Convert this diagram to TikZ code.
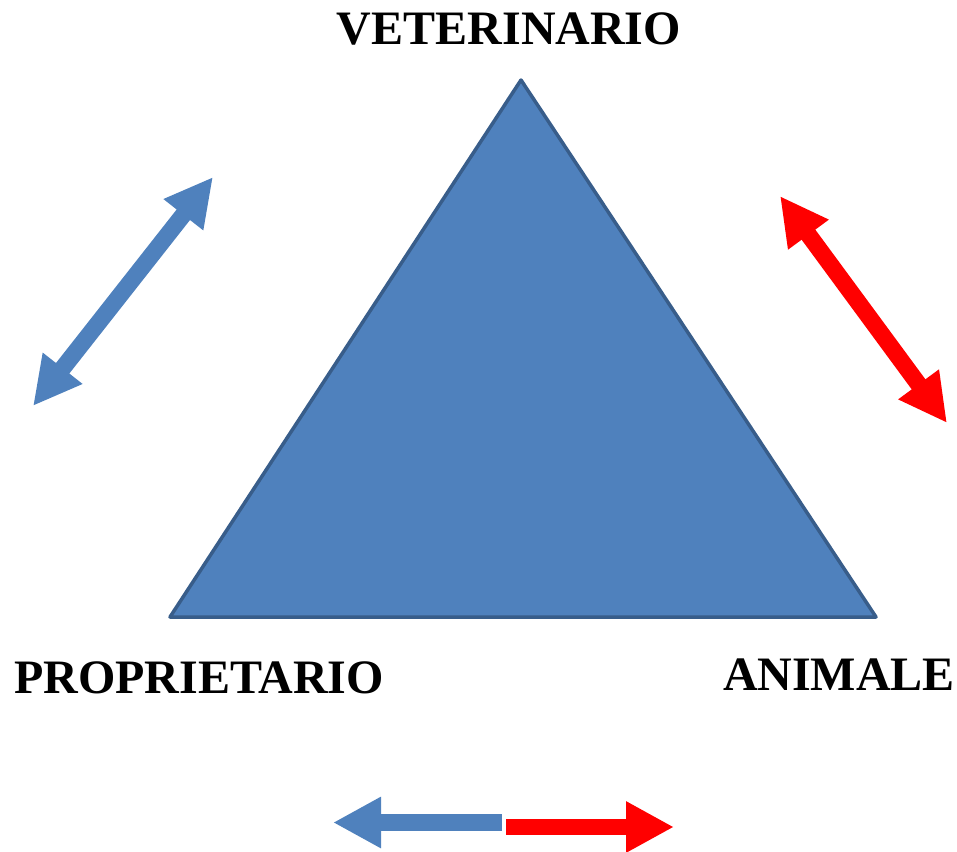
\documentclass[tikz,border=0pt]{standalone}
\usepackage{fontspec}
\setmainfont{Liberation Serif}
\usetikzlibrary{arrows.meta}
\definecolor{triFill}{HTML}{4F81BD}
\definecolor{triLine}{HTML}{385D8A}
\definecolor{arrRed}{HTML}{FF0000}
\tikzstyle{label} = [font=\fontsize{48}{50}\selectfont\bfseries, inner sep=0pt]
\tikzstyle{tri} = [fill=triFill, draw=triLine, line width=3.5pt, line join=round]
\tikzstyle{dblArrow} = [line width=17pt, {Triangle[length=48pt,width=47pt]}-{Triangle[length=48pt,width=47pt]}]
\tikzstyle{oneArrow} = [line width=16pt, -{Triangle[length=48pt,width=48pt]}]

\begin{document}
\begin{tikzpicture}[x=1pt, y=-1pt]

    \useasboundingbox (0,0) rectangle (957,851);

    % triangle corners
    \coordinate (vet) at (521, 80);
    \coordinate (pro) at (170, 617);
    \coordinate (ani) at (876, 617);
    \draw[tri] (vet) -- (ani) -- (pro) -- cycle;

    \node (vetText) [label] at (509, 28.5) {VETERINARIO};
    \node (proText) [label] at (199, 678) {PROPRIETARIO};
    \node (aniText) [label] at (839, 675) {ANIMALE};

    % side arrows
    \coordinate (leftLow) at (33, 406);
    \coordinate (leftHigh) at (213, 177);
    \draw[dblArrow, triFill] (leftLow) -- (leftHigh);

    \coordinate (rightHigh) at (780, 196);
    \coordinate (rightLow) at (947, 423);
    \draw[dblArrow, arrRed] (rightHigh) -- (rightLow);

    % bottom arrows
    \coordinate (blueStart) at (502, 822.5);
    \coordinate (blueEnd) at (333, 822.5);
    \draw[oneArrow, triFill, line width=17pt] (blueStart) -- (blueEnd);

    \coordinate (redStart) at (506, 827);
    \coordinate (redEnd) at (674, 827);
    \draw[oneArrow, arrRed] (redStart) -- (redEnd);

\end{tikzpicture}
\end{document}
